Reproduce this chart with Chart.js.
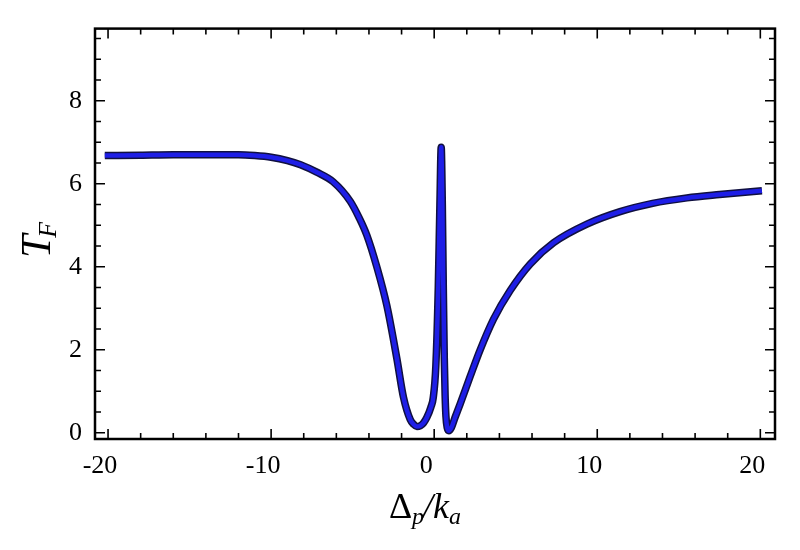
<!DOCTYPE html>
<html>
<head>
<meta charset="utf-8">
<script src="https://cdn.jsdelivr.net/npm/chart.js@4.4.0/dist/chart.umd.min.js"></script>
<style>
  body { margin: 0; background: #fff; }
  #wrap { width: 800px; height: 550px; position: relative; }
</style>
</head>
<body>
<div id="wrap"><canvas id="myChart"></canvas></div>
<script>
// values
var xValues = [-20.2, -18, -16, -14, -12, -11, -10, -9, -8.2, -7.2, -6.2, -5.15, -4.6, -4.13, -3.52, -2.9, -2.29, -1.88,
  -1.47, -1.25, -1.06, -0.85, -0.65, -0.45, -0.2, -0.06, 0.1, 0.25, 0.35, 0.43, 0.5, 0.56, 0.62, 0.67,
  0.72, 0.8, 0.9, 1.05, 1.28, 1.59, 2.21, 2.82, 3.64, 4.66, 5.89, 7.32, 9.37, 11.4, 13.4, 15.5, 17.5, 20.1];
var tfValues = [6.68, 6.69, 6.70, 6.70, 6.70, 6.68, 6.64, 6.56, 6.46, 6.28, 6.05, 5.58, 5.18, 4.76, 4.0, 3.06, 1.79, 0.85,
  0.32, 0.2, 0.15, 0.17, 0.24, 0.37, 0.62, 0.84, 1.6, 3.5, 5.5, 6.88, 5.5, 3.5, 1.8, 0.9,
  0.4, 0.12, 0.05, 0.12, 0.37, 0.69, 1.36, 2.0, 2.74, 3.43, 4.07, 4.58, 5.03, 5.33, 5.53, 5.66, 5.74, 5.83];
var xTicks = [-20, -10, 0, 10, 20];
var yTicks = [0, 2, 4, 6, 8];

var points = xValues.map(function (x, i) { return { x: x, y: tfValues[i] }; });

var serif = '"Liberation Serif", "DejaVu Serif", serif';

// frame, inward ticks on all four sides, axis titles with subscripts
var framePlugin = {
  id: 'frame',
  afterDraw: function (chart) {
    var ctx = chart.ctx, a = chart.chartArea;
    var sx = chart.scales.x, sy = chart.scales.y;
    ctx.save();
    ctx.strokeStyle = '#000';
    ctx.lineWidth = 1.6;
    var v, p, len;
    for (v = -20; v <= 20; v += 2) {
      p = sx.getPixelForValue(v);
      len = (v % 10 === 0) ? 10 : 6;
      ctx.beginPath();
      ctx.moveTo(p, a.bottom); ctx.lineTo(p, a.bottom - len);
      ctx.moveTo(p, a.top); ctx.lineTo(p, a.top + len);
      ctx.stroke();
    }
    for (v = 0; v <= 9.5; v += 0.5) {
      p = sy.getPixelForValue(v);
      len = (v % 2 === 0) ? 10 : 6;
      ctx.beginPath();
      ctx.moveTo(a.left, p); ctx.lineTo(a.left + len, p);
      ctx.moveTo(a.right, p); ctx.lineTo(a.right - len, p);
      ctx.stroke();
    }
    ctx.lineWidth = 2.5;
    ctx.strokeRect(a.left, a.top, a.right - a.left, a.bottom - a.top);

    ctx.fillStyle = '#000';
    ctx.textBaseline = 'alphabetic';
    ctx.textAlign = 'left';

    // y title: T_F
    ctx.save();
    ctx.translate(50, 258);
    ctx.rotate(-Math.PI / 2);
    ctx.font = 'italic 42px ' + serif;
    ctx.fillText('T', 0, 0);
    var wT = ctx.measureText('T').width;
    ctx.font = 'italic 26px ' + serif;
    ctx.fillText('F', wT - 3, 6);
    ctx.restore();

    // x title: Δp/ka
    var parts = [
      { t: '\u0394', f: '36px ', dy: 0, dx: 0 },
      { t: 'p', f: 'italic 24px ', dy: 6, dx: 0 },
      { t: '/', f: 'italic 36px ', dy: 0, dx: -1 },
      { t: 'k', f: 'italic 36px ', dy: 0, dx: 0 },
      { t: 'a', f: 'italic 24px ', dy: 6, dx: 0 }
    ];
    var total = 0;
    parts.forEach(function (q) { ctx.font = q.f + serif; q.w = ctx.measureText(q.t).width; total += q.w + q.dx; });
    var cx = 425 - total / 2;
    parts.forEach(function (q) {
      ctx.font = q.f + serif;
      cx += q.dx;
      ctx.fillText(q.t, cx, 518 + q.dy);
      cx += q.w;
    });
    ctx.restore();
  }
};

new Chart(document.getElementById('myChart').getContext('2d'), {
  type: 'line',
  data: {
    datasets: [{
      label: 'TF',
      data: points,
      borderColor: '#1e1ee6',
      borderWidth: 4.5,
      pointRadius: 0,
      cubicInterpolationMode: 'monotone',
      order: 1
    }, {
      label: 'outline',
      data: points,
      borderColor: '#101040',
      borderWidth: 7.5,
      pointRadius: 0,
      cubicInterpolationMode: 'monotone',
      order: 2
    }]
  },
  options: {
    responsive: true,
    maintainAspectRatio: false,
    animation: false,
    layout: { padding: { top: 21, right: 25, left: 0, bottom: 0 } },
    plugins: { legend: { display: false }, tooltip: { enabled: false } },
    scales: {
      x: {
        type: 'linear',
        min: -20.8,
        max: 20.9,
        afterFit: function (s) { s.height = 111; },
        afterBuildTicks: function (s) { s.ticks = xTicks.map(function (v) { return { value: v }; }); },
        grid: { display: false, drawTicks: false },
        border: { display: false },
        ticks: { font: { family: serif, size: 26 }, color: '#000', padding: 12, labelOffset: -8, maxRotation: 0 }
      },
      y: {
        min: -0.15,
        max: 9.74,
        afterFit: function (s) { s.width = 95; },
        afterBuildTicks: function (s) { s.ticks = yTicks.map(function (v) { return { value: v }; }); },
        grid: { display: false, drawTicks: false },
        border: { display: false },
        ticks: { font: { family: serif, size: 26 }, color: '#000', padding: 13 }
      }
    }
  },
  plugins: [framePlugin]
});
</script>
</body>
</html>
